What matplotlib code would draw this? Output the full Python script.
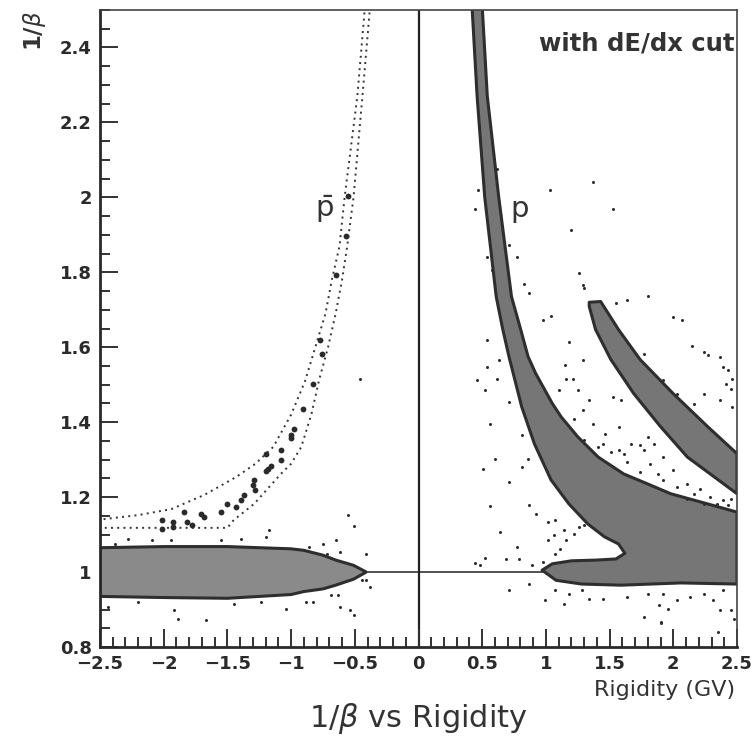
import matplotlib
matplotlib.use("Agg")
import matplotlib.pyplot as plt
from matplotlib.ticker import MultipleLocator

# proton band outline (right/upper edge going down, then left edge going up)
p_right_x = [0.50, 0.54, 0.63, 0.73, 0.80, 0.86, 0.92, 0.99, 1.05, 1.12, 1.25, 1.41, 1.61, 1.80, 1.98, 2.29, 2.50]
p_right_y = [2.51, 2.27, 2.00, 1.735, 1.65, 1.575, 1.53, 1.487, 1.45, 1.414, 1.361, 1.307, 1.262, 1.235, 1.209, 1.18, 1.16]
# bottom of the merged band (right to left) and top of the beta~1 tail
p_low_x = [2.50, 2.06, 1.59, 1.28, 1.08, 0.97, 1.05, 1.20, 1.40, 1.55, 1.62]
p_low_y = [0.968, 0.971, 0.965, 0.968, 0.978, 1.005, 1.022, 1.03, 1.032, 1.035, 1.05]
p_left_x = [1.57, 1.46, 1.33, 1.18, 1.04, 0.91, 0.81, 0.71, 0.66, 0.61, 0.52, 0.46, 0.42]
p_left_y = [1.075, 1.094, 1.128, 1.182, 1.246, 1.342, 1.441, 1.575, 1.65, 1.735, 2.00, 2.27, 2.51]

# deuteron band outline
d_x = [1.34, 1.43, 1.57, 1.74, 2.00, 2.27, 2.50, 2.50, 2.11, 1.90, 1.69, 1.51, 1.39, 1.34]
d_y = [1.72, 1.722, 1.647, 1.567, 1.476, 1.388, 1.316, 1.209, 1.307, 1.388, 1.476, 1.567, 1.647, 1.709]

# negative beta~1 band
n_x = [-2.5, -2.0, -1.5, -1.0, -0.9, -0.75, -0.65, -0.51, -0.41, -0.51, -0.65, -0.75, -0.9, -1.0, -1.5, -2.0, -2.5]
n_y = [1.065, 1.068, 1.068, 1.062, 1.058, 1.045, 1.032, 1.018, 1.0, 0.981, 0.965, 0.955, 0.948, 0.94, 0.93, 0.932, 0.935]

# antiproton selection curves
outer_x = [-0.42, -0.48, -0.58, -0.62, -0.68, -0.73, -0.81, -0.89, -1.00, -1.14, -1.28, -1.43, -1.68, -1.94, -2.20, -2.50]
outer_y = [2.51, 2.27, 2.00, 1.87, 1.78, 1.69, 1.60, 1.51, 1.42, 1.334, 1.289, 1.254, 1.206, 1.168, 1.152, 1.14]
inner_x = [-0.38, -0.44, -0.51, -0.56, -0.60, -0.65, -0.71, -0.78, -0.84, -0.92, -1.00, -1.08, -1.29, -1.45, -1.50, -2.50]
inner_y = [2.51, 2.27, 2.00, 1.869, 1.78, 1.69, 1.60, 1.513, 1.422, 1.334, 1.289, 1.262, 1.182, 1.139, 1.118, 1.118]

# antiproton candidates
pbar_x = [-0.55, -0.57, -0.65, -0.77, -0.76, -0.83, -0.91, -0.98, -1.00, -1.08, -1.08, -1.20, -1.16,
          -1.00, -1.18, -1.20, -1.29, -1.30, -1.28, -1.37, -1.39, -1.43, -1.50, -1.55, -1.68, -1.71,
          -1.78, -1.84, -1.82, -1.93, -1.93, -2.01, -2.01]
pbar_y = [2.003, 1.896, 1.794, 1.620, 1.583, 1.503, 1.436, 1.382, 1.366, 1.326, 1.299, 1.316, 1.283,
          1.358, 1.275, 1.27, 1.246, 1.233, 1.219, 1.206, 1.193, 1.174, 1.182, 1.160, 1.147, 1.155,
          1.126, 1.160, 1.134, 1.134, 1.120, 1.139, 1.115]

# scattered single events
scat_x = [1.37, 1.03, 1.53, 1.20, 1.26, 1.29, 1.80, 1.64, 1.55, 2.00, 2.07, 1.04, 0.98,
          0.47, 0.44, 0.62, 0.71, 0.77, 0.54, 0.58, 0.87, 0.83, 1.30,
          0.54, 0.46, 0.54, 0.62, 0.52, 1.18, 1.16, 1.21, 1.29, 1.15, 1.10, 1.25, 1.34, 1.53, 1.59,
          1.29, 1.22, 1.37, 1.46, 1.57, 1.77, 1.92, 2.15, 2.24, 2.27, 2.37, 2.24, 2.03, 2.39, 2.43,
          2.46, 2.41, 2.45, 2.37, 2.46, 2.16, 2.13, 1.80, 1.74, 1.57, 1.45, 0.81, 0.56, 0.71,
          0.60, 0.51, 0.81, 0.86, 0.71, 0.56, 0.87, 0.64, 0.77, 0.92, 1.02, 1.07, 1.14, 1.06, 1.02,
          1.16, 1.22, 1.26, 1.30, 1.11, 1.07, 0.98, 0.89, 0.79, 0.69, 0.52, 0.44, 0.48, 0.87, 0.71,
          0.99, 1.14, 1.34, 1.45, 1.64, 1.77, 1.90, 1.89, 1.96, 2.03, 2.13, 2.31, 2.37, 2.45, 2.48,
          2.35, 2.39, 2.24, 1.92, 1.80, 1.28, 1.18, 1.07, 1.90, 0.63,
          1.30, 1.41, 1.51, 1.61, 1.64, 1.77, 1.82, 1.74, 1.88, 1.92, 2.00, 2.03, 2.11, 2.16, 2.21,
          2.29, 2.34, 2.39, 2.45, 2.43, 2.11, 2.24, 1.85, 1.67, 1.92,
          -0.55, -0.51, -0.41, -0.75, -0.65, -0.62, -0.72, -1.17, -1.20, -0.86, -2.28, -2.09, -1.94,
          -2.38, -1.55, -1.39, -1.92, -1.89, -1.67, -1.04, -0.62, -0.51, -0.54, -0.69, -0.63, -0.88,
          -0.83, -1.24, -1.45, -2.20, -2.44, -0.41, -0.38, -0.44, -0.46]
scat_y = [2.04, 2.02, 1.968, 1.912, 1.797, 1.767, 1.738, 1.725, 1.717, 1.682, 1.674, 1.684, 1.674,
          2.02, 1.968, 2.075, 1.874, 1.842, 1.842, 1.807, 1.746, 1.77, 1.757,
          1.618, 1.513, 1.548, 1.516, 1.487, 1.615, 1.516, 1.516, 1.567, 1.553, 1.487, 1.487, 1.46, 1.468, 1.46,
          1.433, 1.409, 1.396, 1.369, 1.388, 1.583, 1.513, 1.602, 1.588, 1.58, 1.575, 1.476, 1.476, 1.548, 1.54,
          1.516, 1.503, 1.489, 1.46, 1.441, 1.449, 1.433, 1.361, 1.34, 1.326, 1.342, 1.366, 1.396, 1.455,
          1.302, 1.275, 1.281, 1.302, 1.241, 1.176, 1.179, 1.107, 1.067, 1.155, 1.134, 1.139, 1.112, 1.099, 1.086,
          1.086, 1.102, 1.12, 1.126, 1.061, 1.048, 1.027, 1.019, 1.035, 1.035, 1.037, 1.024, 1.019, 0.968, 0.952,
          0.925, 0.914, 0.928, 0.928, 0.933, 0.88, 0.866, 0.912, 0.902, 0.925, 0.933, 0.925, 0.898, 0.898, 0.874,
          0.84, 0.952, 0.941, 0.941, 0.941, 0.952, 0.941, 0.952, 0.863, 1.567,
          1.353, 1.334, 1.321, 1.316, 1.294, 1.326, 1.289, 1.267, 1.262, 1.246, 1.273, 1.227, 1.235, 1.209, 1.222,
          1.20, 1.182, 1.193, 1.195, 1.179, 1.195, 1.182, 1.342, 1.342, 1.307,
          1.152, 1.123, 1.048, 1.075, 1.086, 1.053, 1.048, 1.112, 1.094, 1.067, 1.088, 1.086, 1.086,
          1.075, 1.086, 1.088, 0.898, 0.874, 0.872, 0.902, 0.906, 0.885, 0.898, 0.938, 0.938, 0.92,
          0.92, 0.92, 0.914, 0.92, 0.906, 0.979, 0.96, 0.979, 1.516]

x_major = [-2.5, -2, -1.5, -1, -0.5, 0, 0.5, 1, 1.5, 2, 2.5]
x_labels = ["\u22122.5", "\u22122", "\u22121.5", "\u22121", "\u22120.5", "0", "0.5", "1", "1.5", "2", "2.5"]
y_major = [0.8, 1.0, 1.2, 1.4, 1.6, 1.8, 2.0, 2.2, 2.4]
y_labels = ["0.8", "1", "1.2", "1.4", "1.6", "1.8", "2", "2.2", "2.4"]

fig = plt.figure(figsize=(7.54, 7.38), dpi=100)
ax = fig.add_axes([100 / 754, 91 / 738, 637 / 754, 637 / 738])

band_face = "#767676"
band_edge = "#2e2e2e"

ax.fill(p_right_x + p_low_x + p_left_x, p_right_y + p_low_y + p_left_y,
        facecolor=band_face, edgecolor=band_edge, lw=2.2, joinstyle="round", zorder=2)
ax.fill(d_x, d_y, facecolor=band_face, edgecolor=band_edge, lw=2.2, joinstyle="round", zorder=2)
ax.fill(n_x, n_y, facecolor="#8a8a8a", edgecolor=band_edge, lw=2.2, joinstyle="round", zorder=2)

# reference lines
ax.axvline(0, color="#222222", lw=1.6, zorder=1)
ax.plot([-0.4, 1.0], [1.0, 1.0], color="#222222", lw=1.1, zorder=1)

# selection curves
ax.plot(outer_x, outer_y, color="#333333", lw=1.4, ls=(0, (1, 2.2)), zorder=3)
ax.plot(inner_x, inner_y, color="#333333", lw=1.4, ls=(0, (1, 2.2)), zorder=3)

ax.plot(scat_x, scat_y, "o", ms=2.2, color="#2e2e2e", mew=0, zorder=3)
ax.plot(pbar_x, pbar_y, "o", ms=4.2, color="#2a2a2a", mew=0, zorder=4)

ax.set_xlim(-2.5, 2.5)
ax.set_ylim(0.8, 2.5)
ax.set_xticks(x_major)
ax.set_xticklabels(x_labels)
ax.set_yticks(y_major)
ax.set_yticklabels(y_labels)
ax.xaxis.set_minor_locator(MultipleLocator(0.1))
ax.yaxis.set_minor_locator(MultipleLocator(0.05))
ax.tick_params(which="both", direction="in", top=False, right=False, width=1.4, color="#333333")
ax.tick_params(which="major", length=13, labelsize=13, pad=6)
ax.tick_params(which="minor", length=7)
for lab in ax.get_xticklabels() + ax.get_yticklabels():
    lab.set_fontweight("bold")
    lab.set_color("#2a2a2a")

for side in ["left", "bottom"]:
    ax.spines[side].set_linewidth(2.0)
    ax.spines[side].set_color("#2a2a2a")
for side in ["top", "right"]:
    ax.spines[side].set_linewidth(1.2)
    ax.spines[side].set_color("#444444")

ax.text(0.79, 1.97, "p", fontsize=21, color="#333333", ha="center", va="center", zorder=5)
ax.text(-0.74, 1.97, r"$\bar{\mathsf{p}}$", fontsize=21, color="#333333", ha="center", va="center", zorder=5)
ax.text(2.48, 2.41, "with dE/dx cut", fontsize=17.5, fontweight="bold", color="#333333",
        ha="right", va="center", zorder=5)

fig.text(34 / 754, 1 - 31 / 738, r"1/$\beta$", fontsize=16.5, fontweight="bold", color="#333333",
         rotation=90, ha="center", va="center")
fig.text(735 / 754, 1 - 690 / 738, "Rigidity (GV)", fontsize=16, color="#333333",
         ha="right", va="center")
fig.text(418 / 754, 1 - 719 / 738, r"1/$\beta$ vs Rigidity", fontsize=22, color="#333333",
         ha="center", va="center")

fig.savefig("out.png", dpi=100)
